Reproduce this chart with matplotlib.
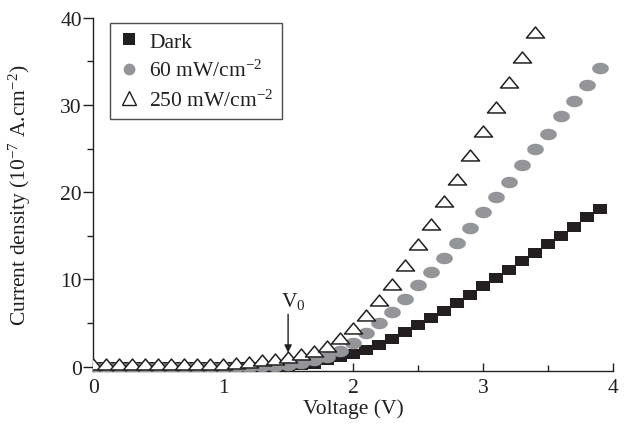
import numpy as np
import matplotlib
matplotlib.use("Agg")
import matplotlib.pyplot as plt
from matplotlib.path import Path
from matplotlib.lines import Line2D
from matplotlib.ticker import MultipleLocator

plt.rcParams['font.family'] = ['Liberation Serif', 'DejaVu Serif']
plt.rcParams['mathtext.fontset'] = 'custom'
plt.rcParams['mathtext.rm'] = 'Liberation Serif'
plt.rcParams['mathtext.it'] = 'Liberation Serif:italic'

# ---- data ----
voltage_dark = [round(0.1 * i, 1) for i in range(40)]
dark = [0.0, 0.0, 0.0, 0.0, 0.0, 0.0, 0.0, 0.0, 0.0, 0.0,
        0.0, 0.0, 0.0, 0.0, 0.0, 0.05, 0.15, 0.35, 0.7, 1.05,
        1.4, 1.85, 2.5, 3.2, 4.0, 4.8, 5.6, 6.4, 7.3, 8.2,
        9.2, 10.1, 11.1, 12.1, 13.0, 14.0, 15.0, 16.0, 17.1, 18.1]

voltage_60 = [round(0.1 * i, 1) for i in range(40)]
light_60 = [0.0, 0.0, 0.0, 0.0, 0.0, 0.0, 0.0, 0.0, 0.0, 0.0,
            0.0, 0.0, 0.0, 0.05, 0.1, 0.2, 0.4, 0.7, 1.15, 1.8,
            2.7, 3.8, 5.0, 6.3, 7.8, 9.3, 10.9, 12.5, 14.2, 15.9,
            17.7, 19.4, 21.2, 23.1, 24.9, 26.7, 28.7, 30.5, 32.3, 34.2]

voltage_250 = [round(0.1 * i, 1) for i in range(35)]
light_250 = [0.3, 0.3, 0.3, 0.3, 0.3, 0.3, 0.3, 0.3, 0.3, 0.3,
             0.3, 0.45, 0.55, 0.7, 0.85, 1.1, 1.4, 1.8, 2.4, 3.3,
             4.4, 5.9, 7.6, 9.5, 11.6, 14.0, 16.4, 19.0, 21.5, 24.3,
             27.0, 29.8, 32.6, 35.5, 38.4]

labels = ['Dark', r'60 mW/cm$^{\mathregular{-2}}$', r'250 mW/cm$^{\mathregular{-2}}$']
x_ticks = [0, 1, 2, 3, 4]
y_ticks = [0, 10, 20, 30, 40]

FS = 15.5
INK = '#231f20'

# ---- stretched markers (as in the reference) ----
r = 1.45
sq_marker = Path([(-r, -1), (r, -1), (r, 1), (-r, 1), (-r, -1)], closed=True)
t = np.linspace(0, 2 * np.pi, 64)
el_marker = Path(np.column_stack([r * np.cos(t), np.sin(t)]), closed=True)
tri_marker = Path([(-1.65, -1), (1.65, -1), (0, 1), (-1.65, -1)], closed=True)

fig = plt.figure(figsize=(6.42, 4.27), dpi=100)
ax = fig.add_axes([0.145, 0.129, 0.81, 0.827])

ax.plot(voltage_dark, dark, linestyle='none', marker=sq_marker, markersize=9.5,
        color=INK, markeredgewidth=0, zorder=3)
ax.plot(voltage_60, light_60, linestyle='none', marker=el_marker, markersize=12,
        color='#939598', markeredgewidth=0, zorder=4)
ax.plot(voltage_250, light_250, linestyle='none', marker=tri_marker, markersize=13,
        markerfacecolor='white', markeredgecolor=INK, markeredgewidth=1.1, zorder=5)

ax.set_xlim(0, 4)
ax.set_ylim(-0.5, 40)
ax.set_xticks(x_ticks)
ax.set_yticks(y_ticks)
ax.xaxis.set_minor_locator(MultipleLocator(0.5))
ax.yaxis.set_minor_locator(MultipleLocator(5))
ax.tick_params(axis='x', which='major', direction='in', length=6, width=1, labelsize=FS, pad=5, colors=INK)
ax.tick_params(axis='x', which='minor', direction='in', length=4, width=1, colors=INK)
ax.tick_params(axis='y', which='major', direction='out', length=7, width=1, labelsize=FS, pad=1, colors=INK)
ax.tick_params(axis='y', which='minor', direction='out', length=4, width=1, colors=INK)
for s in ['top', 'right']:
    ax.spines[s].set_visible(False)
for s in ['left', 'bottom']:
    ax.spines[s].set_linewidth(1.0)
    ax.spines[s].set_color(INK)

ax.set_xlabel('Voltage (V)', fontsize=FS, labelpad=1, color=INK)
ax.set_ylabel(r'Current density (10$^{\mathregular{-7}}$ A.cm$^{\mathregular{-2}}$)',
              fontsize=FS, labelpad=20, color=INK)

# V0 annotation
ax.annotate('', xy=(1.5, 1.6), xytext=(1.5, 6.0),
            arrowprops=dict(arrowstyle='-|>', color=INK, lw=1, mutation_scale=11,
                            shrinkA=0, shrinkB=0))
ax.text(1.443, 6.4, r'V$_{\mathregular{0}}$', ha='left', va='bottom', fontsize=FS, color=INK)

handles = [
    Line2D([], [], linestyle='none', marker='s', markersize=8.5, color=INK, markeredgewidth=0),
    Line2D([], [], linestyle='none', marker='o', markersize=8.5, color='#939598', markeredgewidth=0),
    Line2D([], [], linestyle='none', marker='^', markersize=9.5, markerfacecolor='white',
           markeredgecolor=INK, markeredgewidth=1.0),
]
leg = ax.legend(handles, labels, loc='upper left', bbox_to_anchor=(0.033, 0.985),
                borderaxespad=0, fontsize=FS, frameon=True, fancybox=False,
                handlelength=0.9, handletextpad=0.5, labelspacing=0.38,
                borderpad=0.4)
leg.get_frame().set_edgecolor(INK)
leg.get_frame().set_linewidth(1.0)
for txt in leg.get_texts():
    txt.set_color(INK)

fig.savefig('out.png', dpi=100)
